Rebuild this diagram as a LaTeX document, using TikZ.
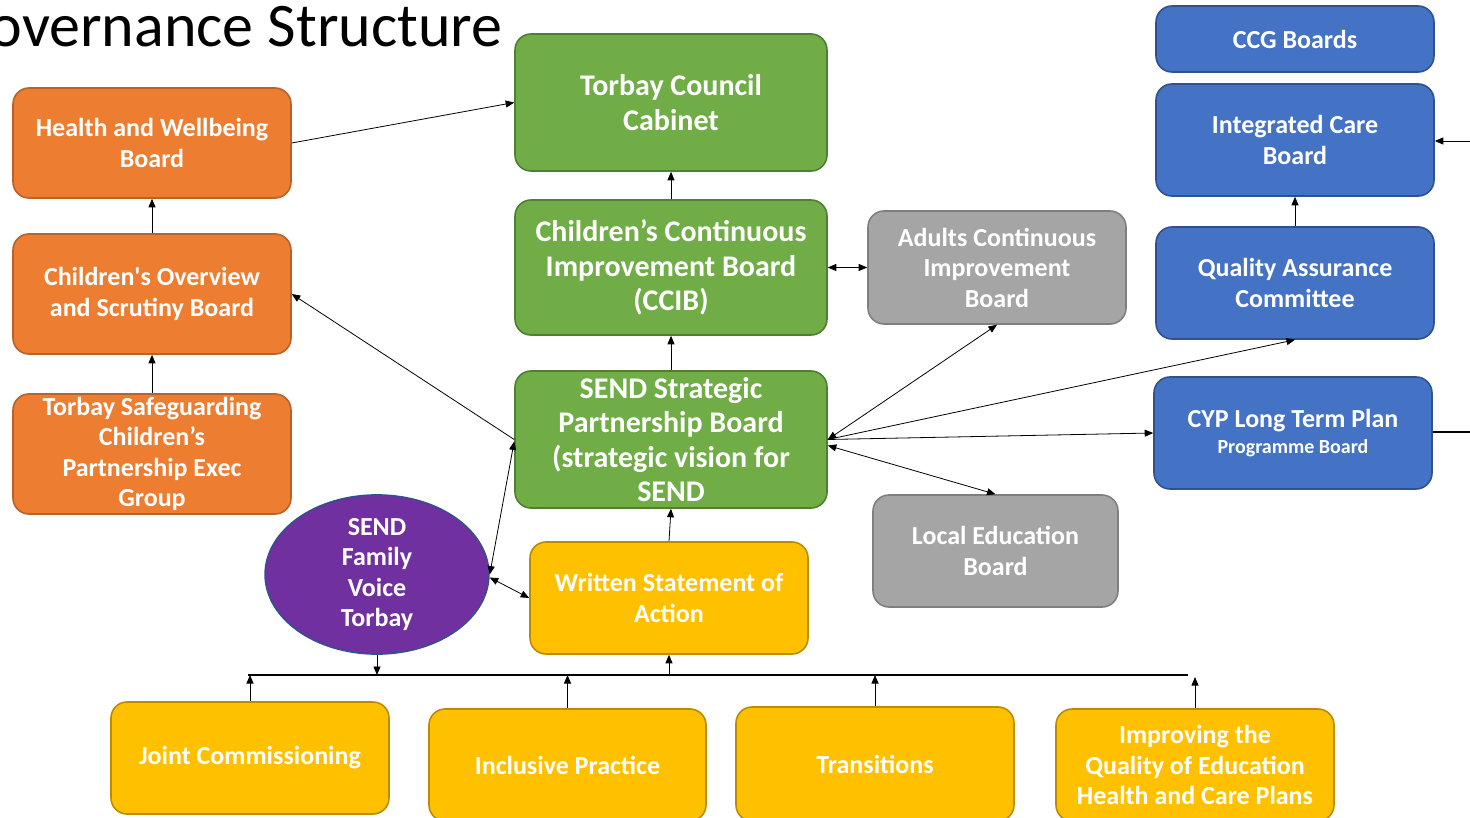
\documentclass[tikz,border=0pt]{standalone}
\usepackage{fontspec}
\setmainfont{Carlito}
\usetikzlibrary{arrows.meta,shapes.geometric,calc}
\definecolor{orF}{HTML}{ED7D31}\definecolor{orD}{HTML}{B9622A}
\definecolor{grF}{HTML}{70AD47}\definecolor{grD}{HTML}{507E32}
\definecolor{gyF}{HTML}{A5A5A5}\definecolor{gyD}{HTML}{7F7F7F}
\definecolor{blF}{HTML}{4472C4}\definecolor{blD}{HTML}{2F528F}
\definecolor{ylF}{HTML}{FFC000}\definecolor{ylD}{HTML}{BC8C00}
\definecolor{puF}{HTML}{7030A0}
\tikzset{
  box/.style={rounded corners=16pt, line width=1.6pt, text=white, align=center,
    inner sep=0pt, font=\bfseries\fontsize{26}{30.5}\selectfont},
  orbox/.style={box, fill=orF, draw=orD},
  grbox/.style={box, fill=grF, draw=grD, font=\bfseries\fontsize{30}{34.5}\selectfont},
  gybox/.style={box, fill=gyF, draw=gyD},
  blbox/.style={box, fill=blF, draw=blD},
  ylbox/.style={box, fill=ylF, draw=ylD},
  conn/.style={draw=black, line width=0.8pt, -{Triangle[length=8.5pt,width=7pt]}},
  dconn/.style={draw=black, line width=0.8pt, {Triangle[length=8.5pt,width=7pt]}-{Triangle[length=8.5pt,width=7pt]}},
  bus/.style={draw=black, line width=2.2pt},
}
\begin{document}
\begin{tikzpicture}[x=1pt,y=-1pt]
\useasboundingbox (0,0) rectangle (1470,818);
\node[anchor=base east, font=\fontsize{62}{70}\selectfont] (title) at (506,47) {Governance Structure};
% left column
\node[orbox, minimum width=278pt, minimum height=110pt] (hwb) at (152,143) {Health and Wellbeing\\Board};
\node[orbox, minimum width=278pt, minimum height=120pt] (cosb) at (152,294) {Children\textquotesingle s Overview\\and Scrutiny Board};
\node[orbox, minimum width=278pt, minimum height=120pt] (tscp) at (152,454) {Torbay Safeguarding\\Children’s\\Partnership Exec\\Group};
% centre column
\node[grbox, minimum width=312pt, minimum height=137pt] (cab) at (671,102.5) {Torbay Council\\Cabinet};
\node[grbox, minimum width=312pt, minimum height=135pt] (ccib) at (671,267.5) {Children’s Continuous\\Improvement Board\\(CCIB)};
\node[grbox, minimum width=312pt, minimum height=137pt] (send) at (671,439.5) {SEND Strategic\\Partnership Board\\(strategic vision for\\SEND};
% grey
\node[gybox, minimum width=258pt, minimum height=113pt] (acib) at (997,267.5) {Adults Continuous\\Improvement\\Board};
\node[gybox, minimum width=245pt, minimum height=112pt] (leb) at (995.5,551) {Local Education\\Board};
% blue
\node[blbox, minimum width=278pt, minimum height=66pt] (ccg) at (1295,39) {CCG Boards};
\node[blbox, minimum width=278pt, minimum height=112pt] (icb) at (1295,140) {Integrated Care\\Board};
\node[blbox, minimum width=278pt, minimum height=112pt] (qac) at (1295,283) {Quality Assurance\\Committee};
\node[blbox, minimum width=278pt, minimum height=112pt] (cyp) at (1293,433) {CYP Long Term Plan\\[-5pt]{\fontsize{20}{22}\selectfont Programme Board}};
% purple ellipse
\node[ellipse, fill=puF, draw=blD, line width=1.4pt, text=white, align=center, inner sep=0pt,
  minimum width=224pt, minimum height=149pt, font=\bfseries\fontsize{26}{30.5}\selectfont] (sfv) at (377,574.5) {SEND\\Family\\Voice\\Torbay};
% yellow
\node[ylbox, minimum width=278pt, minimum height=112pt] (wsoa) at (669,598) {Written Statement of\\Action};
\node[ylbox, minimum width=278pt, minimum height=112pt] (jc) at (250,758) {Joint Commissioning};
\node[ylbox, minimum width=277pt, minimum height=112pt] (ip) at (567.5,765) {Inclusive Practice};
\node[ylbox, minimum width=278pt, minimum height=114pt] (tr) at (875,764) {Transitions};
\node[ylbox, minimum width=278pt, minimum height=112pt] (iq) at (1195,765) {Improving the\\Quality of Education\\Health and Care Plans};
% bus line
\coordinate (bl) at (248,675);
\coordinate (br) at (1188,675);
\draw[bus] (bl) -- (br);
\draw[conn] (jc.north) -- (jc.north |- bl);
\draw[conn] (ip.north) -- (ip.north |- bl);
\draw[conn] (tr.north) -- (tr.north |- bl);
\draw[conn] (iq.north) -- ($(iq.north |- bl)+(0,2)$);
\draw[conn] (wsoa.south |- bl) -- (wsoa.south);
\draw[conn] (sfv.south) -- (sfv.south |- bl);
% vertical links
\draw[conn] (wsoa.north) -- (send.south);
\draw[conn] (send.north) -- (ccib.south);
\draw[conn] (ccib.north) -- (cab.south);
\draw[dconn] (ccib.east) -- (acib.west);
\draw[conn] (cosb.north) -- (hwb.south);
\draw[conn] (tscp.north) -- (cosb.south);
\draw[conn] (hwb.east) -- (cab.west);
\draw[conn] (send.west) -- (cosb.east);
\draw[dconn] (sfv.east) -- ([yshift=-2pt]send.west);
\draw[dconn] ([yshift=-3pt]sfv.east) -- (wsoa.west);
% right hub
\draw[dconn] (send.east) -- (acib.south);
\draw[conn] (send.east) -- (qac.south);
\draw[conn] (send.east) -- (cyp.west);
\draw[dconn] ([yshift=-6pt]send.east) -- (leb.north);
\draw[conn] (qac.north) -- (icb.south);
\coordinate (redge1) at (1470,141);
\coordinate (redge2) at (1470,432);
\draw[conn] (redge1) -- (icb.east |- redge1);
\draw[bus] (cyp.east |- redge2) -- (redge2);
\end{tikzpicture}
\end{document}
